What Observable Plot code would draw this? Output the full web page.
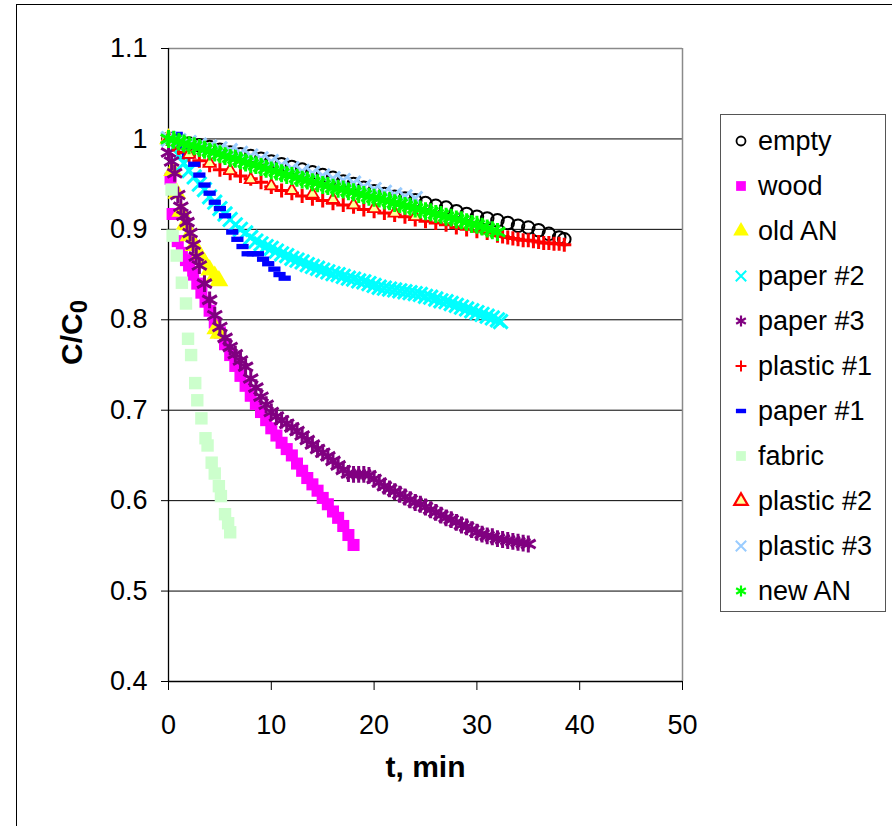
<!DOCTYPE html>
<html><head><meta charset="utf-8">
<script src="https://cdn.jsdelivr.net/npm/d3@7"></script>
<script src="https://cdn.jsdelivr.net/npm/@observablehq/plot@0.6"></script>
<style>
body{margin:0;background:#fff;}
#wrap{position:relative;width:892px;height:826px;overflow:hidden;font-family:"Liberation Sans",Arial,sans-serif;background:#fff;}
#frame{position:absolute;left:16px;top:4px;width:900px;height:900px;border:1.5px solid #000;box-sizing:border-box;}
#chart{position:absolute;left:0;top:0;}
#legend{position:absolute;left:720px;top:114px;width:166px;height:498px;border:1.5px solid #555;box-sizing:border-box;background:#fff;}
.row{position:absolute;left:0;height:40px;display:flex;align-items:center;font-size:27px;color:#000;white-space:nowrap;}
.row svg{margin-left:9px;margin-right:6px;}
</style>
</head><body>
<div id="wrap"><div id="frame"></div><div id="chart"></div><div id="legend"></div></div>
<script>
// ---- data: [t (min), C/C0] ----
const xTicks = [0, 10, 20, 30, 40, 50];
const yTicks = [0.4, 0.5, 0.6, 0.7, 0.8, 0.9, 1.0, 1.1];
const seriesNames = ["empty","wood","old AN","paper #2","paper #3","plastic #1","paper #1","fabric","plastic #2","plastic #3","new AN"];

const empty = [[0,1.000],[1,0.998],[2,0.995],[3,0.993],[4,0.991],[5,0.988],[6,0.985],[7,0.983],[8,0.981],[9,0.978],[10,0.975],[11,0.972],[12,0.969],[13,0.966],[14,0.963],[15,0.960],[16,0.957],[17,0.953],[18,0.950],[19,0.946],[20,0.942],[21,0.939],[22,0.936],[23,0.934],[24,0.932],[25,0.929],[26,0.926],[27,0.924],[28,0.920],[29,0.917],[30,0.914],[31,0.912],[32,0.910],[33,0.907],[34,0.904],[35,0.902],[36,0.899],[37,0.895],[38,0.891],[38.5,0.889]];

const wood = [[0,1.0],[0.2,0.956],[0.4,0.917],[0.9,0.887],[1.3,0.874],[1.7,0.866],[2.0,0.860],[2.4,0.850],[2.8,0.840],[3.2,0.830],[3.6,0.820],[4.0,0.810],[4.5,0.797],[5.0,0.786],[5.5,0.773],[6.0,0.761],[6.5,0.749],[7.0,0.738],[7.5,0.727],[8.0,0.716],[8.5,0.707],[9.0,0.698],[9.5,0.689],[10.0,0.680],[10.5,0.672],[11.0,0.664],[11.5,0.657],[12.0,0.650],[12.5,0.641],[13.0,0.633],[13.5,0.625],[14.0,0.618],[14.5,0.611],[15.0,0.603],[15.5,0.596],[16.0,0.588],[16.5,0.581],[17.0,0.572],[17.5,0.562],[18.0,0.551]];

const oldAN = [[0,1.0],[0.4,0.965],[0.8,0.940],[1.2,0.920],[1.6,0.905],[2.0,0.893],[2.5,0.882],[3.0,0.872],[3.5,0.863],[4.0,0.855],[4.5,0.848],[4.9,0.843],[4.6,0.790],[4.9,0.785]];

const paper2 = [[0,1.000],[0.5,0.990],[1,0.982],[1.5,0.973],[2,0.965],[2.5,0.958],[3,0.950],[3.5,0.944],[4,0.936],[4.5,0.930],[5,0.923],[5.5,0.917],[6,0.911],[6.5,0.905],[7,0.900],[7.5,0.896],[8,0.891],[8.5,0.887],[9,0.884],[9.5,0.881],[10,0.879],[10.5,0.876],[11,0.873],[11.5,0.871],[12,0.868],[12.5,0.866],[13,0.864],[13.5,0.861],[14,0.859],[14.5,0.857],[15,0.855],[15.5,0.853],[16,0.851],[16.5,0.850],[17,0.848],[17.5,0.846],[18,0.845],[18.5,0.843],[19,0.842],[19.5,0.840],[20,0.838],[20.5,0.836],[21,0.835],[21.5,0.834],[22,0.833],[22.5,0.832],[23,0.831],[23.5,0.830],[24,0.829],[24.5,0.828],[25,0.826],[25.5,0.825],[26,0.823],[26.5,0.821],[27,0.820],[27.5,0.818],[28,0.816],[28.5,0.814],[29,0.812],[29.5,0.810],[30,0.808],[30.5,0.806],[31,0.804],[31.5,0.802],[32,0.800],[32.3,0.798]];

const paper3 = [[0,0.985],[0.3,0.975],[0.6,0.962],[0.9,0.938],[1.2,0.925],[1.5,0.915],[1.8,0.908],[2.1,0.896],[2.4,0.883],[2.7,0.870],[3.0,0.860],[3.5,0.840],[4.0,0.822],[4.5,0.805],[5.0,0.792],[5.5,0.780],[6.0,0.770],[6.5,0.762],[7.0,0.755],[7.5,0.748],[8.0,0.735],[8.5,0.725],[9.0,0.715],[9.5,0.706],[10,0.698],[10.5,0.693],[11,0.689],[11.5,0.685],[12,0.681],[12.5,0.677],[13,0.672],[13.5,0.667],[14,0.662],[14.5,0.657],[15,0.653],[15.5,0.649],[16,0.644],[16.5,0.639],[17,0.634],[17.5,0.630],[18,0.629],[18.5,0.629],[19,0.629],[19.5,0.628],[20,0.624],[20.5,0.620],[21,0.616],[21.5,0.613],[22,0.610],[22.5,0.607],[23,0.604],[23.5,0.601],[24,0.598],[24.5,0.596],[25,0.593],[25.5,0.590],[26,0.587],[26.5,0.584],[27,0.581],[27.5,0.579],[28,0.576],[28.5,0.573],[29,0.571],[29.5,0.568],[30,0.565],[30.5,0.563],[31,0.561],[31.5,0.560],[32,0.558],[32.5,0.557],[33,0.556],[33.5,0.555],[34,0.554],[34.5,0.553],[35,0.552]];

const plastic1 = [[0,1.000],[0.5,0.994],[1,0.990],[1.5,0.985],[2,0.982],[3,0.976],[4,0.971],[5,0.966],[6,0.962],[7,0.959],[8,0.956],[9,0.952],[10,0.947],[11,0.943],[12,0.940],[13,0.937],[14,0.934],[15,0.932],[16,0.929],[17,0.927],[18,0.925],[19,0.922],[20,0.920],[21,0.918],[22,0.916],[23,0.914],[24,0.911],[25,0.909],[26,0.907],[27,0.905],[28,0.902],[29,0.900],[30,0.898],[31,0.896],[32,0.893],[32.5,0.892],[33,0.891],[33.5,0.890],[34,0.889],[34.5,0.888],[35,0.888],[35.5,0.887],[36,0.886],[36.5,0.885],[37,0.885],[37.5,0.884],[38,0.884],[38.5,0.883]];

const paper1 = [[0.8,1.005],[1.4,0.992],[1.9,0.981],[2.5,0.972],[3.0,0.960],[3.5,0.949],[4.0,0.940],[4.5,0.930],[5.0,0.923],[5.5,0.915],[6.2,0.897],[6.7,0.889],[7.2,0.881],[7.7,0.873],[8.2,0.873],[8.7,0.873],[9.2,0.867],[9.7,0.862],[10.3,0.856],[10.8,0.850],[11.3,0.846]];

const fabric = [[0,1.0],[0.3,0.944],[0.4,0.893],[0.8,0.871],[1.3,0.841],[1.7,0.818],[1.9,0.779],[2.2,0.761],[2.6,0.730],[2.8,0.711],[3.2,0.691],[3.6,0.669],[3.8,0.661],[4.2,0.642],[4.5,0.630],[4.9,0.616],[5.1,0.605],[5.5,0.585],[5.8,0.575],[6.0,0.565]];

const plastic2 = [[0,1.000],[2,0.983],[4,0.973],[6,0.965],[8,0.955],[10,0.948],[12,0.943],[14,0.939],[16,0.933],[18,0.927],[20,0.923],[22,0.918],[24,0.914]];

const plastic3 = [[0,1.000],[1,0.998],[2,0.996],[3,0.993],[4,0.991],[5,0.989],[6,0.987],[7,0.984],[8,0.981],[9,0.978],[10,0.975],[11,0.971],[12,0.967],[13,0.964],[14,0.962],[15,0.959],[16,0.956],[17,0.954],[18,0.951],[19,0.947],[20,0.944],[21,0.941],[22,0.938],[23,0.936],[24,0.934]];

const newAN = [[0,1.000],[0.5,0.999],[1,0.997],[1.5,0.995],[2,0.993],[2.5,0.992],[3,0.990],[3.5,0.988],[4,0.986],[4.5,0.985],[5,0.983],[5.5,0.981],[6,0.979],[6.5,0.978],[7,0.976],[7.5,0.974],[8,0.972],[8.5,0.971],[9,0.969],[9.5,0.967],[10,0.965],[10.5,0.964],[11,0.962],[11.5,0.960],[12,0.959],[12.5,0.957],[13,0.955],[13.5,0.954],[14,0.952],[14.5,0.951],[15,0.949],[15.5,0.948],[16,0.946],[16.5,0.945],[17,0.944],[17.5,0.942],[18,0.941],[18.5,0.939],[19,0.938],[19.5,0.936],[20,0.935],[20.5,0.934],[21,0.932],[21.5,0.931],[22,0.929],[22.5,0.928],[23,0.926],[23.5,0.925],[24,0.923],[24.5,0.922],[25,0.920],[25.5,0.919],[26,0.917],[26.5,0.916],[27,0.914],[27.5,0.913],[28,0.911],[28.5,0.910],[29,0.908],[29.5,0.906],[30,0.905],[30.5,0.903],[31,0.901],[31.5,0.899],[32,0.897]];

const seriesData = [empty, wood, oldAN, paper2, paper3, plastic1, paper1, fabric, plastic2, plastic3, newAN];

// ---- styles ----
const dashSymbol = {draw(ctx, size) { const s = Math.sqrt(size); const w = s * 1.15, h = s * 0.5; ctx.rect(-w/2, -h/2, w, h); }};
const styles = [
  {symbol: d3.symbolCircle, fill: "none", stroke: "#000000", sw: 2, r: 6.3, lr: 4.5, lsw: 1.8},
  {symbol: d3.symbolSquare, fill: "#ff00ff", stroke: "none", sw: 0, r: 6.8, lr: 5.5, lsw: 0},
  {symbol: d3.symbolTriangle, fill: "#ffff00", stroke: "none", sw: 0, r: 7, lr: 5.8, lsw: 0},
  {symbol: d3.symbolTimes, fill: "none", stroke: "#00ffff", sw: 3, r: 6.5, lr: 4.8, lsw: 2},
  {symbol: d3.symbolAsterisk, fill: "none", stroke: "#800080", sw: 3, r: 8, lr: 5.3, lsw: 2.2},
  {symbol: d3.symbolPlus, fill: "none", stroke: "#ff0000", sw: 3, r: 4.6, lr: 3.6, lsw: 2},
  {symbol: dashSymbol, fill: "#0000ff", stroke: "none", sw: 0, r: 6, lr: 5, lsw: 0},
  {symbol: d3.symbolSquare, fill: "#ccffcc", stroke: "none", sw: 0, r: 7, lr: 5.5, lsw: 0},
  {symbol: d3.symbolTriangle, fill: "#ffff99", stroke: "#ff0000", sw: 1.8, r: 4.5, lr: 5, lsw: 2.2},
  {symbol: d3.symbolTimes, fill: "none", stroke: "#99ccff", sw: 3, r: 6.5, lr: 4.8, lsw: 2},
  {symbol: d3.symbolAsterisk, fill: "none", stroke: "#00ff00", sw: 3, r: 8.5, lr: 5.3, lsw: 2.2}
];

const dotMarks = seriesData.map((data, i) => {
  const s = styles[i];
  return Plot.dot(data, {x: d => d[0], y: d => d[1], symbol: s.symbol, r: s.r,
    fill: s.fill, stroke: s.stroke, strokeWidth: s.sw});
});

const chart = Plot.plot({
  width: 892, height: 826,
  marginLeft: 168, marginRight: 210, marginTop: 48, marginBottom: 145,
  style: {fontFamily: "'Liberation Sans', Arial, sans-serif", background: "transparent", overflow: "visible", color: "#000"},
  x: {domain: [0, 50]},
  y: {domain: [0.4, 1.1]},
  marks: [
    Plot.ruleY(yTicks.filter(v => v > 0.45 && v < 1.05), {stroke: "#000", strokeWidth: 1}),
    Plot.ruleY([1.1], {stroke: "#8a8a8a", strokeWidth: 1.5}),
    Plot.ruleX([50], {stroke: "#8a8a8a", strokeWidth: 1.5}),
    Plot.ruleY([0.4], {stroke: "#000", strokeWidth: 1.3}),
    Plot.ruleX([0], {stroke: "#000", strokeWidth: 1.3}),
    Plot.axisX({ticks: xTicks, tickSize: 9, tickPadding: 24, fontSize: 27, label: null, tickFormat: d => String(d)}),
    Plot.axisY({ticks: yTicks, tickSize: 7, tickPadding: 14, fontSize: 27, label: null, tickFormat: d => String(+d.toFixed(1))}),
    Plot.text(["t, min"], {frameAnchor: "bottom", dy: 95, fontSize: 30, fontWeight: "bold"}),
    Plot.text(["C/C0"], {frameAnchor: "left", dx: -96, rotate: -90, fontSize: 30, fontWeight: "bold"}),
    ...dotMarks
  ]
});
document.getElementById("chart").appendChild(chart);

// subscript for the y title
d3.select(chart).selectAll("text").each(function() {
  if (this.textContent === "C/C0") {
    const t = d3.select(this);
    t.text("C/C");
    t.append("tspan").attr("dy", "0.22em").attr("font-size", "24px").text("0");
  }
});

// legend
const legend = d3.select("#legend");
seriesNames.forEach((name, i) => {
  const s = styles[i];
  const row = legend.append("div").attr("class", "row").style("top", (6 + 45 * i) + "px");
  const svg = row.append("svg").attr("width", 22).attr("height", 22);
  svg.append("path")
    .attr("transform", "translate(11,11)")
    .attr("d", d3.symbol(s.symbol, Math.PI * s.lr * s.lr)())
    .attr("fill", s.fill).attr("stroke", s.stroke).attr("stroke-width", s.lsw);
  row.append("span").text(name);
});
</script>
</body></html>
